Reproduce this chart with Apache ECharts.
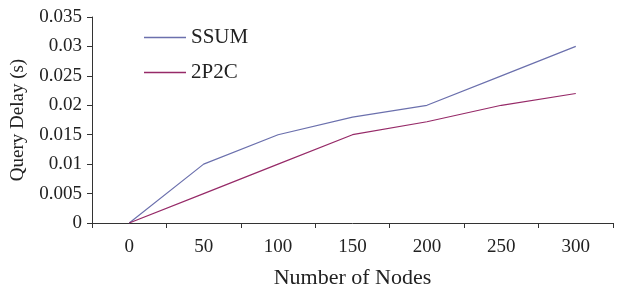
<!DOCTYPE html>
<html>
<head>
<meta charset="utf-8">
<script src="https://cdn.jsdelivr.net/npm/echarts@6/dist/echarts.min.js"></script>
<style>
html,body{margin:0;padding:0;background:#fff;}
#chart{width:617px;height:289px;}
</style>
</head>
<body>
<div id="chart"></div>
<script>
const categories = ['0','50','100','150','200','250','300'];
const ssum = [0, 0.010, 0.015, 0.018, 0.020, 0.025, 0.030];
const p2c = [0, 0.005, 0.010, 0.015, 0.0172, 0.020, 0.022];
const seriesNames = ['SSUM', '2P2C'];
const xName = 'Number of Nodes';
const yName = 'Query Delay (s)';

const font = 'Liberation Serif';
const chart = echarts.init(document.getElementById('chart'), null, {renderer: 'canvas'});
chart.setOption({
  animation: false,
  backgroundColor: '#fff',
  grid: {left: 92, right: 4, top: 17, bottom: 66, containLabel: false, outerBoundsMode: 'none'},
  legend: {
    orient: 'vertical',
    left: 144, top: 27, padding: 0,
    icon: 'rect',
    itemWidth: 42, itemHeight: 1.3, itemGap: 14,
    textStyle: {fontFamily: font, fontSize: 21, color: '#222', padding: [0, 0, 0, 0]},
    data: seriesNames
  },
  xAxis: {
    type: 'category',
    data: categories,
    boundaryGap: true,
    name: xName,
    nameLocation: 'middle',
    nameGap: 44,
    nameTextStyle: {fontFamily: font, fontSize: 22, color: '#222'},
    axisLine: {lineStyle: {color: '#333', width: 1}},
    axisTick: {show: true, length: 5, alignWithLabel: false, lineStyle: {color: '#333'}},
    axisLabel: {fontFamily: font, fontSize: 19, color: '#222', margin: 15},
    splitLine: {show: false}
  },
  yAxis: {
    type: 'value',
    min: 0, max: 0.035, interval: 0.005,
    name: yName,
    nameLocation: 'middle',
    nameGap: 64,
    nameRotate: 90,
    nameTextStyle: {fontFamily: font, fontSize: 19, color: '#222'},
    axisLine: {show: true, lineStyle: {color: '#333', width: 1}},
    axisTick: {show: true, length: 5, lineStyle: {color: '#333'}},
    axisLabel: {fontFamily: font, fontSize: 19, color: '#222', margin: 10,
      formatter: v => String(parseFloat(v.toFixed(3)))},
    splitLine: {show: false}
  },
  series: [
    {name: seriesNames[0], type: 'line', data: ssum, symbol: 'none',
     lineStyle: {color: '#6b70ad', width: 1.2}, itemStyle: {color: '#6b70ad'}},
    {name: seriesNames[1], type: 'line', data: p2c, symbol: 'none',
     lineStyle: {color: '#962a68', width: 1.2}, itemStyle: {color: '#962a68'}}
  ]
});
</script>
</body>
</html>
